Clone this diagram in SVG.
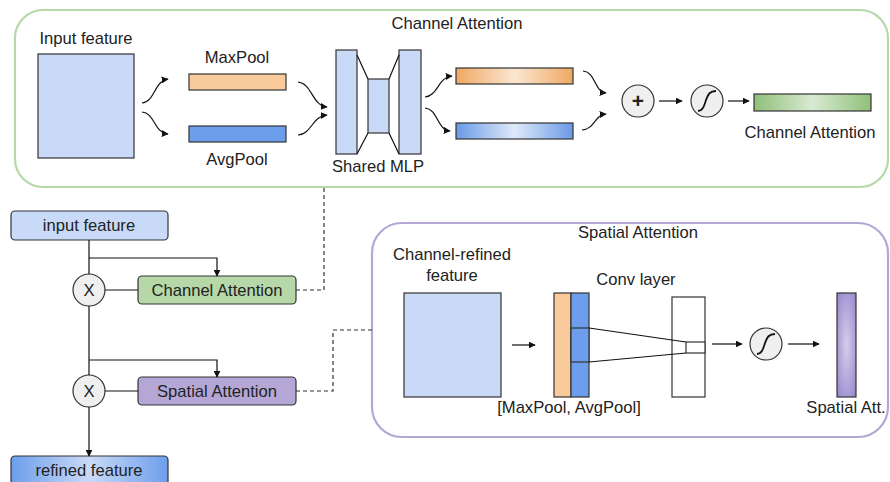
<svg xmlns="http://www.w3.org/2000/svg" width="890" height="482" viewBox="0 0 890 482">
  <defs>
    <style>
      text { font-family: "Liberation Sans", Arial, sans-serif; font-size: 16.6px; fill: #222; }
      .mid { text-anchor: middle; }
      .box { stroke: #333; stroke-width: 1.2; }
      .line { fill: none; stroke: #111; stroke-width: 1.2; }
      .sig { fill: none; stroke: #111; stroke-width: 1.8; }
      .arrow { fill: none; stroke: #111; stroke-width: 1.2; marker-end: url(#head); }
      .dash { fill: none; stroke: #333; stroke-width: 1.2; stroke-dasharray: 4 3; }
      .op { fill: #efefef; stroke: #333; stroke-width: 1.2; }
    </style>
    <marker id="head" viewBox="0 0 10 10" refX="9" refY="5" markerWidth="7" markerHeight="7" markerUnits="userSpaceOnUse" orient="auto">
      <path d="M0,0 L10,5 L0,10 z" fill="#111"/>
    </marker>
    <linearGradient id="gOrange" x1="0" y1="0" x2="1" y2="0">
      <stop offset="0" stop-color="#f0a863"/>
      <stop offset="0.5" stop-color="#fbe6d2"/>
      <stop offset="1" stop-color="#f0a863"/>
    </linearGradient>
    <linearGradient id="gBlue" x1="0" y1="0" x2="1" y2="0">
      <stop offset="0" stop-color="#6a9ae6"/>
      <stop offset="0.5" stop-color="#dfe9fa"/>
      <stop offset="1" stop-color="#6a9ae6"/>
    </linearGradient>
    <linearGradient id="gGreen" x1="0" y1="0" x2="1" y2="0">
      <stop offset="0" stop-color="#8fbf79"/>
      <stop offset="0.5" stop-color="#d9ead3"/>
      <stop offset="1" stop-color="#8fbf79"/>
    </linearGradient>
    <linearGradient id="gRefined" x1="0" y1="0" x2="1" y2="0">
      <stop offset="0" stop-color="#6d9eeb"/>
      <stop offset="0.5" stop-color="#c9daf8"/>
      <stop offset="1" stop-color="#6d9eeb"/>
    </linearGradient>
    <radialGradient id="gPurple" cx="0.5" cy="0.5" r="0.7">
      <stop offset="0" stop-color="#d6ceeb"/>
      <stop offset="1" stop-color="#9484cb"/>
    </radialGradient>
  </defs>

  <!-- Channel attention module -->
  <g id="channel-module">
    <rect x="15" y="10" width="873" height="177" rx="28" fill="#fff" stroke="#b6d7a8" stroke-width="2.2"/>
    <text class="mid" x="457" y="29">Channel Attention</text>
  </g>
  <g id="ca-input">
    <text class="mid" x="86" y="44">Input feature</text>
    <rect class="box" x="38" y="54" width="96" height="104" fill="#c9daf8"/>
  </g>
  <g id="ca-maxpool">
    <text class="mid" x="237" y="63">MaxPool</text>
    <rect class="box" x="189" y="74" width="97" height="16" fill="#f9cb9c"/>
  </g>
  <g id="ca-avgpool">
    <rect class="box" x="189" y="126" width="97" height="16" fill="#6d9eeb"/>
    <text class="mid" x="237" y="165">AvgPool</text>
  </g>
  <g id="shared-mlp">
    <rect class="box" x="336" y="50" width="21" height="104" fill="#c9daf8"/>
    <rect class="box" x="368" y="79" width="21" height="54" fill="#c9daf8"/>
    <rect class="box" x="399" y="50" width="22" height="104" fill="#c9daf8"/>
    <path class="line" d="M357,55 L368,79 M357,154 L368,133 M389,79 L399,55 M389,133 L399,154"/>
    <text class="mid" x="378" y="172">Shared MLP</text>
  </g>
  <g id="mlp-out-max">
    <rect class="box" x="456" y="68" width="117" height="16" fill="url(#gOrange)"/>
  </g>
  <g id="mlp-out-avg">
    <rect class="box" x="456" y="123" width="117" height="16" fill="url(#gBlue)"/>
  </g>
  <g id="ca-sum">
    <circle class="op" cx="638" cy="101" r="16"/>
    <text class="mid" x="638" y="108" style="font-size:21px;font-weight:bold">+</text>
  </g>
  <g id="ca-sigmoid">
    <circle class="op" cx="707" cy="101" r="16"/>
    <path class="sig" d="M698,111 C703,111 704,106 706,100 C708,94 710,91 716,91"/>
  </g>
  <g id="ca-output">
    <rect class="box" x="754" y="94" width="117" height="17" fill="url(#gGreen)"/>
    <text class="mid" x="810" y="138">Channel Attention</text>
  </g>

  <!-- Spatial attention module -->
  <g id="spatial-module">
    <rect x="372" y="223" width="516" height="214" rx="30" fill="#fff" stroke="#b4a7d6" stroke-width="2.2"/>
    <text class="mid" x="638" y="238">Spatial Attention</text>
  </g>
  <g id="sa-input">
    <text class="mid" x="452" y="260">Channel-refined</text>
    <text class="mid" x="452" y="281">feature</text>
    <rect class="box" x="404" y="293" width="97" height="104" fill="#c9daf8"/>
  </g>
  <g id="sa-pool">
    <rect class="box" x="554" y="293" width="17" height="104" fill="#f9cb9c"/>
    <rect class="box" x="571" y="293" width="18" height="104" fill="#6d9eeb"/>
    <rect class="box" x="571" y="328" width="18" height="34" fill="#6d9eeb"/>
    <text class="mid" x="569" y="413">[MaxPool, AvgPool]</text>
  </g>
  <g id="sa-conv">
    <text class="mid" x="636" y="285">Conv layer</text>
    <rect class="box" x="672" y="297" width="33" height="100" fill="#fff"/>
    <rect class="box" x="686" y="342" width="19" height="11" fill="#fff"/>
    <path class="line" d="M589,328 L686,342 M589,362 L686,353"/>
  </g>
  <g id="sa-sigmoid">
    <circle class="op" cx="766" cy="344" r="16"/>
    <path class="sig" d="M757,354 C762,354 763,349 765,343 C767,337 769,334 775,334"/>
  </g>
  <g id="sa-output">
    <rect class="box" x="837" y="293" width="19" height="104" fill="url(#gPurple)"/>
    <text class="mid" x="846" y="413">Spatial Att.</text>
  </g>

  <!-- Overall pipeline -->
  <g id="input-feature">
    <rect class="box" x="11" y="211" width="157" height="29" rx="4" fill="#c9daf8"/>
    <text class="mid" x="89" y="231">input feature</text>
  </g>
  <g id="mul-1">
    <circle class="op" cx="89" cy="290" r="16"/>
    <text class="mid" x="89" y="296">X</text>
  </g>
  <g id="channel-attention">
    <rect class="box" x="138" y="276" width="158" height="28" rx="4" fill="#b6d7a8"/>
    <text class="mid" x="217" y="296">Channel Attention</text>
  </g>
  <g id="mul-2">
    <circle class="op" cx="89" cy="391" r="16"/>
    <text class="mid" x="89" y="397">X</text>
  </g>
  <g id="spatial-attention">
    <rect class="box" x="138" y="377" width="158" height="28" rx="4" fill="#b4a7d6"/>
    <text class="mid" x="217" y="397">Spatial Attention</text>
  </g>
  <g id="refined-feature">
    <rect class="box" x="11" y="456" width="157" height="30" rx="4" fill="url(#gRefined)"/>
    <text class="mid" x="89" y="476">refined feature</text>
  </g>

  <g id="connectors">
    <!-- channel module flow -->
    <path class="arrow" d="M142,103 C155,102 154,81 168,79"/>
    <path class="arrow" d="M142,112 C155,113 154,133 168,134"/>
    <path class="arrow" d="M298,82 C312,83 312,106 327,107"/>
    <path class="arrow" d="M298,135 C312,134 312,116 327,115"/>
    <path class="arrow" d="M425,97 C438,96 438,77 452,76"/>
    <path class="arrow" d="M425,108 C438,109 437,130 450,131"/>
    <path class="arrow" d="M583,71 C596,72 594,92 606,93"/>
    <path class="arrow" d="M582,130 C595,129 594,115 606,114"/>
    <path class="arrow" d="M659,101 L682,101"/>
    <path class="arrow" d="M728,101 L749,101"/>
    <!-- spatial module flow -->
    <path class="arrow" d="M512,345 L535,345"/>
    <path class="arrow" d="M712,344 L742,344"/>
    <path class="arrow" d="M788,344 L819,344"/>
    <!-- pipeline -->
    <path class="line" d="M89,240 L89,274"/>
    <path class="arrow" d="M89,258 L217,258 L217,276"/>
    <path class="line" d="M105,290 L138,290"/>
    <path class="line" d="M89,306 L89,375"/>
    <path class="arrow" d="M89,360 L217,360 L217,377"/>
    <path class="line" d="M105,391 L138,391"/>
    <path class="arrow" d="M89,407 L89,456"/>
    <!-- module references -->
    <path class="dash" d="M296,290 L324,290 L324,188"/>
    <path class="dash" d="M296,391 L333,391 L333,330 L372,330"/>
  </g>
</svg>
